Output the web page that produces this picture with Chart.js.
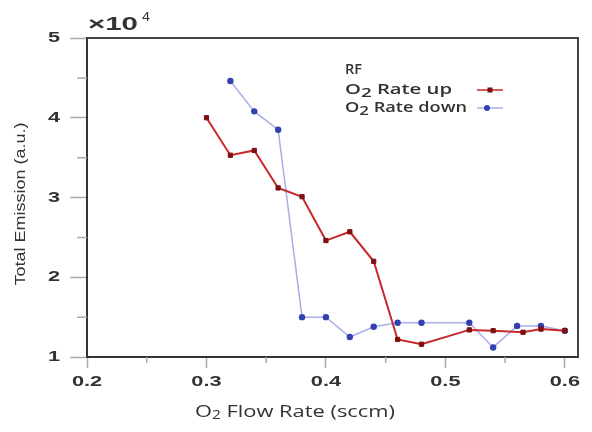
<!DOCTYPE html>
<html>
<head>
<meta charset="utf-8">
<script src="https://cdn.jsdelivr.net/npm/chart.js@4.4.1/dist/chart.umd.min.js"></script>
<style>
  html, body { margin: 0; padding: 0; background: #fff; }
  #wrap { width: 592px; height: 432px; }
</style>
</head>
<body>
<div id="wrap"><canvas id="emissionChart" width="592" height="432"></canvas></div>
<script>
// O2 flow sweep, RF plasma - total emission vs flow rate

// Rate up (red) series
const rateUpFlow = [0.30, 0.32, 0.34, 0.36, 0.38, 0.40, 0.42, 0.44, 0.46, 0.48, 0.52, 0.54, 0.565, 0.58, 0.60];
const rateUpEmission = [40000, 35300, 35900, 31200, 30100, 24600, 25700, 22000, 12200, 11600, 13400, 13300, 13100, 13500, 13300];

// Rate down (blue) series
const rateDownFlow = [0.32, 0.34, 0.36, 0.38, 0.40, 0.42, 0.44, 0.46, 0.48, 0.52, 0.54, 0.56, 0.58, 0.60];
const rateDownEmission = [44600, 40800, 38500, 15000, 15000, 12500, 13800, 14300, 14300, 14300, 11200, 13900, 13900, 13300];

// axis ticks
const xMajorTicks = [0.2, 0.3, 0.4, 0.5, 0.6];
const xMinorTicks = [0.25, 0.35, 0.45, 0.55];
const yMajorTicks = [10000, 20000, 30000, 40000, 50000];
const yMinorTicks = [15000, 25000, 35000, 45000];

const RED_LINE = '#c8282a';
const RED_MARK = '#7e1010';
const BLUE_LINE = '#a9aee6';
const BLUE_MARK = '#3340b0';
const TEXT_FONT = '"Open Sans", "Noto Sans", sans-serif';
const TICK_FONT = '"Liberation Sans", Arial, sans-serif';

function toPoints(xs, ys) {
    return xs.map((x, i) => ({ x, y: ys[i] }));
}

function partsWidth(ctx, parts) {
    let w = 0;
    parts.forEach(p => { ctx.font = p.font; w += ctx.measureText(p.t).width; });
    return w;
}

// draw text pieces squeezed/stretched horizontally by sx
// align: 'left' | 'center' | 'right'
function drawParts(ctx, parts, x, y, sx, align) {
    const w = partsWidth(ctx, parts) * sx;
    let x0 = x;
    if (align === 'center') x0 = x - w / 2;
    if (align === 'right') x0 = x - w;
    ctx.save();
    ctx.translate(x0, y);
    ctx.scale(sx, 1);
    ctx.textAlign = 'left';
    let cx = 0;
    parts.forEach(p => {
        ctx.font = p.font;
        ctx.fillText(p.t, cx, p.dy || 0);
        cx += ctx.measureText(p.t).width;
    });
    ctx.restore();
}

// same, but fit to a given width
function fitParts(ctx, parts, x, y, targetW, align) {
    drawParts(ctx, parts, x, y, targetW / partsWidth(ctx, parts), align);
}

// frame, minor ticks, tick labels, titles, legend
const decorPlugin = {
    id: 'decor',
    afterDraw(chart) {
        const ctx = chart.ctx;
        const area = chart.chartArea;
        const xs = chart.scales.x;
        const ys = chart.scales.y;
        ctx.save();

        // top + right frame
        ctx.strokeStyle = '#444';
        ctx.lineWidth = 2;
        ctx.beginPath();
        ctx.moveTo(area.left, area.top);
        ctx.lineTo(area.right, area.top);
        ctx.lineTo(area.right, area.bottom);
        ctx.stroke();

        // minor ticks
        ctx.strokeStyle = '#aaa';
        ctx.lineWidth = 1.5;
        ctx.beginPath();
        xMinorTicks.forEach(v => {
            const px = xs.getPixelForValue(v);
            ctx.moveTo(px, area.bottom);
            ctx.lineTo(px, area.bottom + 6);
        });
        yMinorTicks.forEach(v => {
            const py = ys.getPixelForValue(v);
            ctx.moveTo(area.left - 10, py);
            ctx.lineTo(area.left, py);
        });
        ctx.stroke();

        ctx.fillStyle = '#333';
        ctx.textBaseline = 'middle';
        const tickFont = 'bold 15px ' + TICK_FONT;

        // tick labels (stretched like the source image)
        xs.ticks.forEach(t => {
            drawParts(ctx, [{ t: t.value.toFixed(1), font: tickFont }],
                xs.getPixelForValue(t.value), 382, 1.45, 'center');
        });
        ys.ticks.forEach(t => {
            drawParts(ctx, [{ t: String(t.value / 10000), font: tickFont }],
                60, ys.getPixelForValue(t.value), 1.45, 'right');
        });

        // exponent label
        fitParts(ctx, [{ t: '\u00d710', font: 'bold 19px ' + TICK_FONT }], 88, 25, 50, 'left');
        drawParts(ctx, [{ t: '4', font: '12px ' + TICK_FONT }], 142, 18, 1.2, 'left');

        // x title
        fitParts(ctx, [
            { t: 'O', font: '17px ' + TEXT_FONT },
            { t: '2', font: '12px ' + TEXT_FONT, dy: 4 },
            { t: ' Flow Rate (sccm)', font: '17px ' + TEXT_FONT }
        ], 295, 412, 200, 'center');

        // y title
        ctx.save();
        ctx.translate(21, 204);
        ctx.rotate(-Math.PI / 2);
        fitParts(ctx, [{ t: 'Total Emission (a.u.)', font: '15.5px ' + TICK_FONT }], 0, 0, 163, 'center');
        ctx.restore();

        // legend
        ctx.fillStyle = '#333';
        fitParts(ctx, [{ t: 'RF', font: '600 14px ' + TEXT_FONT }], 345, 70, 17, 'left');
        fitParts(ctx, [
            { t: 'O', font: '600 14px ' + TEXT_FONT },
            { t: '2', font: '600 13px ' + TEXT_FONT, dy: 3 },
            { t: ' Rate up', font: '600 14px ' + TEXT_FONT }
        ], 345, 90, 107, 'left');
        fitParts(ctx, [
            { t: 'O', font: '600 14px ' + TEXT_FONT },
            { t: '2', font: '600 13px ' + TEXT_FONT, dy: 3 },
            { t: ' Rate down', font: '600 14px ' + TEXT_FONT }
        ], 345, 108, 122, 'left');

        ctx.lineWidth = 1.5;
        ctx.strokeStyle = RED_LINE;
        ctx.beginPath(); ctx.moveTo(477, 90); ctx.lineTo(503, 90); ctx.stroke();
        ctx.fillStyle = RED_MARK;
        ctx.fillRect(487.5, 87.5, 5, 5);
        ctx.strokeStyle = BLUE_LINE;
        ctx.beginPath(); ctx.moveTo(477, 108); ctx.lineTo(503, 108); ctx.stroke();
        ctx.fillStyle = BLUE_MARK;
        ctx.beginPath(); ctx.arc(487, 108, 3, 0, Math.PI * 2); ctx.fill();

        ctx.restore();
    }
};

const ctx = document.getElementById('emissionChart').getContext('2d');
new Chart(ctx, {
    type: 'line',
    data: {
        datasets: [
            {
                label: 'O2 Rate up',
                data: toPoints(rateUpFlow, rateUpEmission),
                borderColor: RED_LINE,
                borderWidth: 2,
                pointStyle: 'rect',
                pointRadius: 3,
                pointBackgroundColor: RED_MARK,
                pointBorderColor: RED_MARK,
                pointBorderWidth: 1,
                tension: 0
            },
            {
                label: 'O2 Rate down',
                data: toPoints(rateDownFlow, rateDownEmission),
                borderColor: BLUE_LINE,
                borderWidth: 1.5,
                pointStyle: 'circle',
                pointRadius: 3.2,
                pointBackgroundColor: BLUE_MARK,
                pointBorderColor: BLUE_MARK,
                pointBorderWidth: 0,
                tension: 0
            }
        ]
    },
    options: {
        responsive: false,
        animation: false,
        events: [],
        layout: { padding: { top: 38, right: 14, left: 0, bottom: 0 } },
        plugins: {
            legend: { display: false },
            tooltip: { enabled: false },
            title: { display: false }
        },
        scales: {
            x: {
                type: 'linear',
                min: 0.2,
                max: 0.611,
                afterFit: s => { s.height = 75; },
                afterBuildTicks: s => { s.ticks = xMajorTicks.map(v => ({ value: v })); },
                border: { color: '#333', width: 2 },
                grid: { drawOnChartArea: false, drawTicks: true, tickLength: 11, tickColor: '#aaa', tickWidth: 1.5 },
                ticks: { display: false }
            },
            y: {
                type: 'linear',
                min: 10000,
                max: 50000,
                afterFit: s => { s.width = 87; },
                afterBuildTicks: s => { s.ticks = yMajorTicks.map(v => ({ value: v })); },
                border: { color: '#333', width: 2 },
                grid: { drawOnChartArea: false, drawTicks: true, tickLength: 17, tickColor: '#aaa', tickWidth: 1.5 },
                ticks: { display: false }
            }
        }
    },
    plugins: [decorPlugin]
});
</script>
</body>
</html>
